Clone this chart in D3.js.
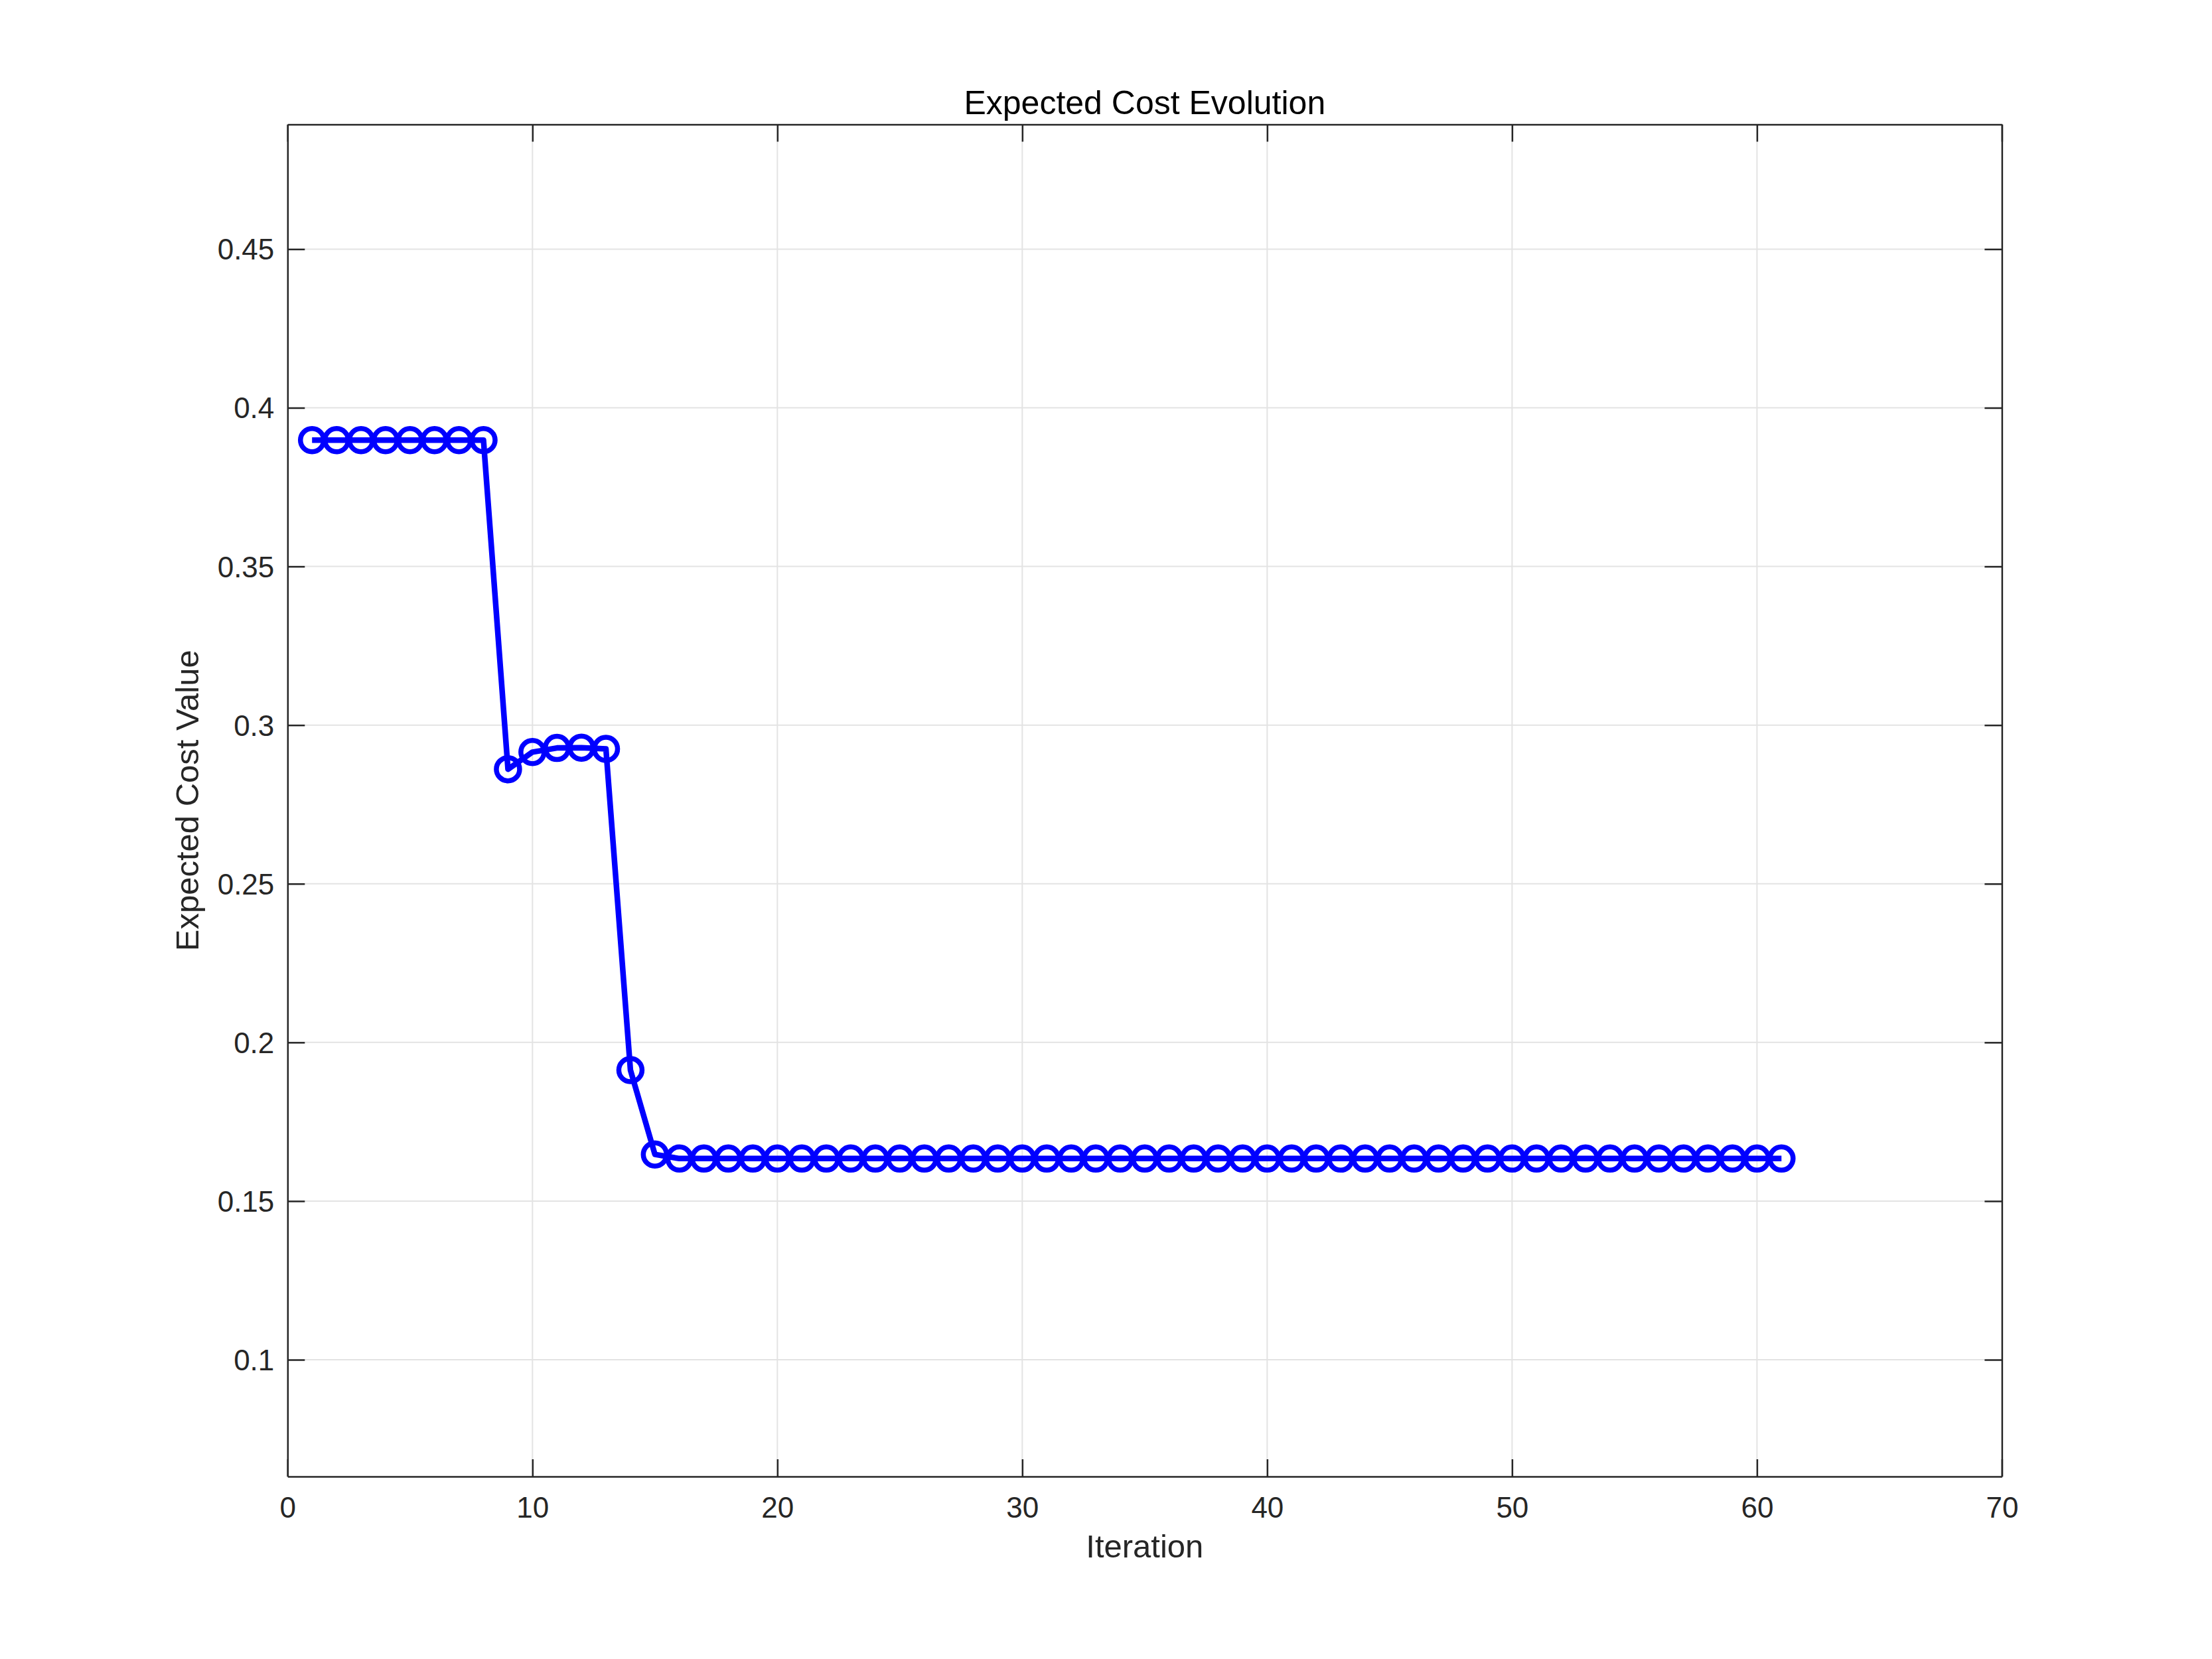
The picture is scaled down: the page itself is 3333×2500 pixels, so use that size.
<!DOCTYPE html>
<html><head><meta charset="utf-8">
<script src="https://cdn.jsdelivr.net/npm/d3@7"></script>
<style>body{margin:0;background:#fff}svg{display:block}</style>
</head><body>
<script>
const iterations = d3.range(1, 62);
const costValues = [
  0.3898,0.3898,0.3898,0.3898,0.3898,0.3898,0.3898,0.3898,
  0.2861,0.2915,0.2928,0.2929,0.2925,
  0.1913,0.1647,
  0.1634,0.1634,0.1634,0.1634,0.1634,0.1634,0.1634,0.1634,0.1634,0.1634,
  0.1634,0.1634,0.1634,0.1634,0.1634,0.1634,0.1634,0.1634,0.1634,0.1634,
  0.1634,0.1634,0.1634,0.1634,0.1634,0.1634,0.1634,0.1634,0.1634,0.1634,
  0.1634,0.1634,0.1634,0.1634,0.1634,0.1634,0.1634,0.1634,0.1634,0.1634,
  0.1634,0.1634,0.1634,0.1634,0.1634,0.1634
];
const xTicks = [0,10,20,30,40,50,60,70];
const yTicks = [0.1,0.15,0.2,0.25,0.3,0.35,0.4,0.45];
const xDomain = [0,70];
const yDomain = [0.0632,0.4893];
const titleText = "Expected Cost Evolution";
const xLabelText = "Iteration";
const yLabelText = "Expected Cost Value";

const W=3333,H=2500;
const L=433.3,R=3016.4,T=187.5,B=2225;
const svg=d3.select("body").append("svg").attr("width",W).attr("height",H);
const x=d3.scaleLinear().domain(xDomain).range([L,R]);
const y=d3.scaleLinear().domain(yDomain).range([B,T]);
const font="'Liberation Sans', Arial, Helvetica, sans-serif";
const axisColor="#262626";
const tickLen=26;

// grid
const g=svg.append("g");
g.selectAll(".gx").data(xTicks.filter(d=>d>xDomain[0]&&d<xDomain[1])).enter().append("line")
 .attr("x1",d=>x(d)).attr("x2",d=>x(d)).attr("y1",T).attr("y2",B)
 .attr("stroke","#e3e3e3").attr("stroke-width",2);
g.selectAll(".gy").data(yTicks).enter().append("line")
 .attr("y1",d=>y(d)).attr("y2",d=>y(d)).attr("x1",L).attr("x2",R)
 .attr("stroke","#e3e3e3").attr("stroke-width",2);

// axes with d3 axis generators
const fmtY=d=>String(+d.toFixed(2));
const axB=svg.append("g").attr("transform",`translate(0,${B})`)
 .call(d3.axisBottom(x).tickValues(xTicks).tickSizeInner(-tickLen).tickSizeOuter(0).tickPadding(20).tickFormat(d3.format("d")));
const axT=svg.append("g").attr("transform",`translate(0,${T})`)
 .call(d3.axisTop(x).tickValues(xTicks).tickSizeInner(-tickLen).tickSizeOuter(0).tickFormat(""));
const axL=svg.append("g").attr("transform",`translate(${L},0)`)
 .call(d3.axisLeft(y).tickValues(yTicks).tickSizeInner(-tickLen).tickSizeOuter(0).tickPadding(20).tickFormat(fmtY));
const axR=svg.append("g").attr("transform",`translate(${R},0)`)
 .call(d3.axisRight(y).tickValues(yTicks).tickSizeInner(-tickLen).tickSizeOuter(0).tickFormat(""));
[axB,axT,axL,axR].forEach(a=>{
  a.select(".domain").attr("stroke",axisColor).attr("stroke-width",2.5);
  a.selectAll(".tick line").attr("stroke",axisColor).attr("stroke-width",2.5);
  a.selectAll("text").attr("fill",axisColor).style("font-family",font).style("font-size","44px");
});
axB.selectAll("text").attr("y",62).attr("dy",0);
axL.selectAll("text").attr("dy","0.35em");

// line
svg.append("path").datum(iterations.map((d,i)=>[d,costValues[i]]))
 .attr("d",d3.line().x(d=>x(d[0])).y(d=>y(d[1])))
 .attr("fill","none").attr("stroke","#0000ff").attr("stroke-width",8.5).attr("stroke-linejoin","round");
svg.append("g").selectAll("circle").data(iterations.map((d,i)=>[d,costValues[i]])).enter().append("circle")
 .attr("cx",d=>x(d[0])).attr("cy",d=>y(d[1])).attr("r",17.5)
 .attr("fill","none").attr("stroke","#0000ff").attr("stroke-width",7.5);

// texts
svg.append("text").attr("x",(L+R)/2).attr("y",172).attr("text-anchor","middle")
 .style("font-family",font).style("font-size","50px").attr("fill","#000").text(titleText);
svg.append("text").attr("x",(L+R)/2).attr("y",2347).attr("text-anchor","middle")
 .style("font-family",font).style("font-size","49px").attr("fill",axisColor).text(xLabelText);
svg.append("text").attr("transform",`translate(299,${(T+B)/2}) rotate(-90)`).attr("text-anchor","middle")
 .style("font-family",font).style("font-size","49px").attr("fill",axisColor).text(yLabelText);
</script>
</body></html>
